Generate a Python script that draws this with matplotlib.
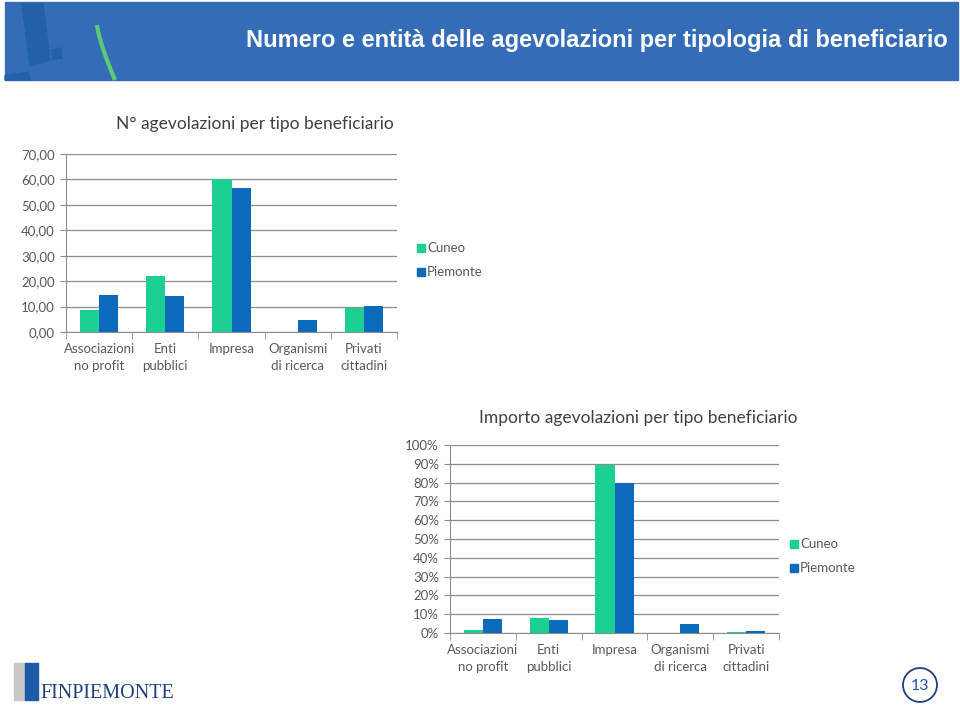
import matplotlib
matplotlib.use("Agg")
import matplotlib.pyplot as plt
import matplotlib.patches as mpatches
import numpy as np

# dati
categorie = ["Associazioni\nno profit", "Enti\npubblici", "Impresa",
             "Organismi\ndi ricerca", "Privati\ncittadini"]
numero_cuneo = [8.5, 22.2, 60.0, 0.0, 9.3]
numero_piemonte = [14.5, 14.0, 56.5, 4.8, 10.2]
importo_cuneo = [1.8, 8.2, 89.2, 0.0, 0.7]
importo_piemonte = [7.2, 6.8, 80.0, 5.0, 1.0]
serie = ["Cuneo", "Piemonte"]
yticks_num = [0, 10, 20, 30, 40, 50, 60, 70]
yticks_pct = [0, 10, 20, 30, 40, 50, 60, 70, 80, 90, 100]

VERDE = "#1ccf92"
BLU = "#0b6abb"
GRIGIO_TESTO = "#595959"
GRIGIO_LINEE = "#8c8c8c"

W, H = 960, 708
fig = plt.figure(figsize=(W / 100, H / 100), dpi=100)
plt.rcParams['font.family'] = ['Lato', 'DejaVu Sans']


def px_axes(x0, y0, x1, y1):
    # coordinate in pixel (origine in alto a sinistra)
    return fig.add_axes([x0 / W, 1 - y1 / H, (x1 - x0) / W, (y1 - y0) / H])


def fx(x):
    return x / W


def fy(y):
    return 1 - y / H


# banner del titolo
bg = fig.add_axes([0, 0, 1, 1], zorder=-10)
bg.set_xlim(0, W)
bg.set_ylim(H, 0)
bg.axis("off")
bg.add_patch(mpatches.Rectangle((5, 2), 953, 78, color="#356cb7"))
bg.add_patch(mpatches.Polygon([(22, 4), (43, 4), (50, 60), (30, 66)], color="#2260a8"))
bg.add_patch(mpatches.Polygon([(52, 50), (61, 48), (62, 58), (53, 60)], color="#2260a8"))
bg.add_patch(mpatches.Polygon([(5, 76), (28, 72), (30, 80), (5, 80)], color="#2260a8"))
t = np.linspace(0, 1, 50)
bg.plot(97 + 18 * t ** 1.3, 25 + 55 * t, color="#5cc878", lw=3, solid_capstyle="butt")
bg.text(948, 40, "Numero e entità delle agevolazioni per tipologia di beneficiario",
        ha="right", va="center", color="white", fontsize=17, fontweight="bold",
        family=["Liberation Sans Narrow", "Liberation Sans", "DejaVu Sans"])

# logo
bg.add_patch(mpatches.Rectangle((14, 663), 12, 37, color="#c8c8c8"))
bg.add_patch(mpatches.Rectangle((25, 663), 13, 37, color="#1f5aa6"))
bg.text(40, 693, "FINPIEMONTE", ha="left", va="center", color="#1f3f7f",
        fontsize=14.5, family=["Liberation Serif", "DejaVu Serif"])

# numero pagina
bg.add_patch(mpatches.Circle((920, 685), 17, fill=False, ec="#1f3f7f", lw=1.3))
bg.text(920, 686, "13", ha="center", va="center", color="#1f5aa6", fontsize=11.5)


def grafico(ax, v1, v2, yticks, ylim, fmt):
    x = np.arange(len(categorie))
    w = 0.29
    ax.bar(x - w / 2, v1, w, color=VERDE, zorder=3)
    ax.bar(x + w / 2, v2, w, color=BLU, zorder=3)
    ax.set_xlim(-0.5, len(categorie) - 0.5)
    ax.set_ylim(*ylim)
    ax.set_yticks(yticks)
    ax.set_yticklabels([fmt(v) for v in yticks])
    ax.set_xticks(x)
    ax.set_xticklabels(categorie, linespacing=1.45)
    ax.set_xticks(np.arange(len(categorie) + 1) - 0.5, minor=True)
    ax.tick_params(axis="x", which="major", length=0, pad=8)
    ax.tick_params(axis="x", which="minor", length=5, color=GRIGIO_LINEE, direction="out")
    ax.tick_params(axis="y", length=4, color=GRIGIO_LINEE, pad=4)
    ax.tick_params(labelsize=9.5, labelcolor=GRIGIO_TESTO)
    ax.grid(axis="y", color=GRIGIO_LINEE, lw=0.9, zorder=0)
    for s in ["top", "right"]:
        ax.spines[s].set_visible(False)
    for s in ["left", "bottom"]:
        ax.spines[s].set_color(GRIGIO_LINEE)
    ax.set_facecolor("none")


ax1 = px_axes(66, 154, 397, 332)
grafico(ax1, numero_cuneo, numero_piemonte, yticks_num, (0, 70),
        lambda v: f"{v:.2f}".replace(".", ","))
fig.text(fx(255), fy(124), "N° agevolazioni per tipo beneficiario", ha="center",
         va="center", fontsize=12.5, color="#404040")

ax2 = px_axes(450, 445, 779, 633)
grafico(ax2, importo_cuneo, importo_piemonte, yticks_pct, (0, 100),
        lambda v: f"{v}%")
fig.text(fx(638), fy(418), "Importo agevolazioni per tipo beneficiario", ha="center",
         va="center", fontsize=12.5, color="#404040")

# legende
for (lx, ly) in [(427, 248), (800, 544)]:
    for i, (nome, col) in enumerate(zip(serie, [VERDE, BLU])):
        y = ly + 24 * i
        bg.add_patch(mpatches.Rectangle((lx - 10, y - 4), 8, 8, color=col))
        bg.text(lx, y, nome, ha="left", va="center", fontsize=9.5,
                color=GRIGIO_TESTO)

fig.savefig("out.png", dpi=100)
